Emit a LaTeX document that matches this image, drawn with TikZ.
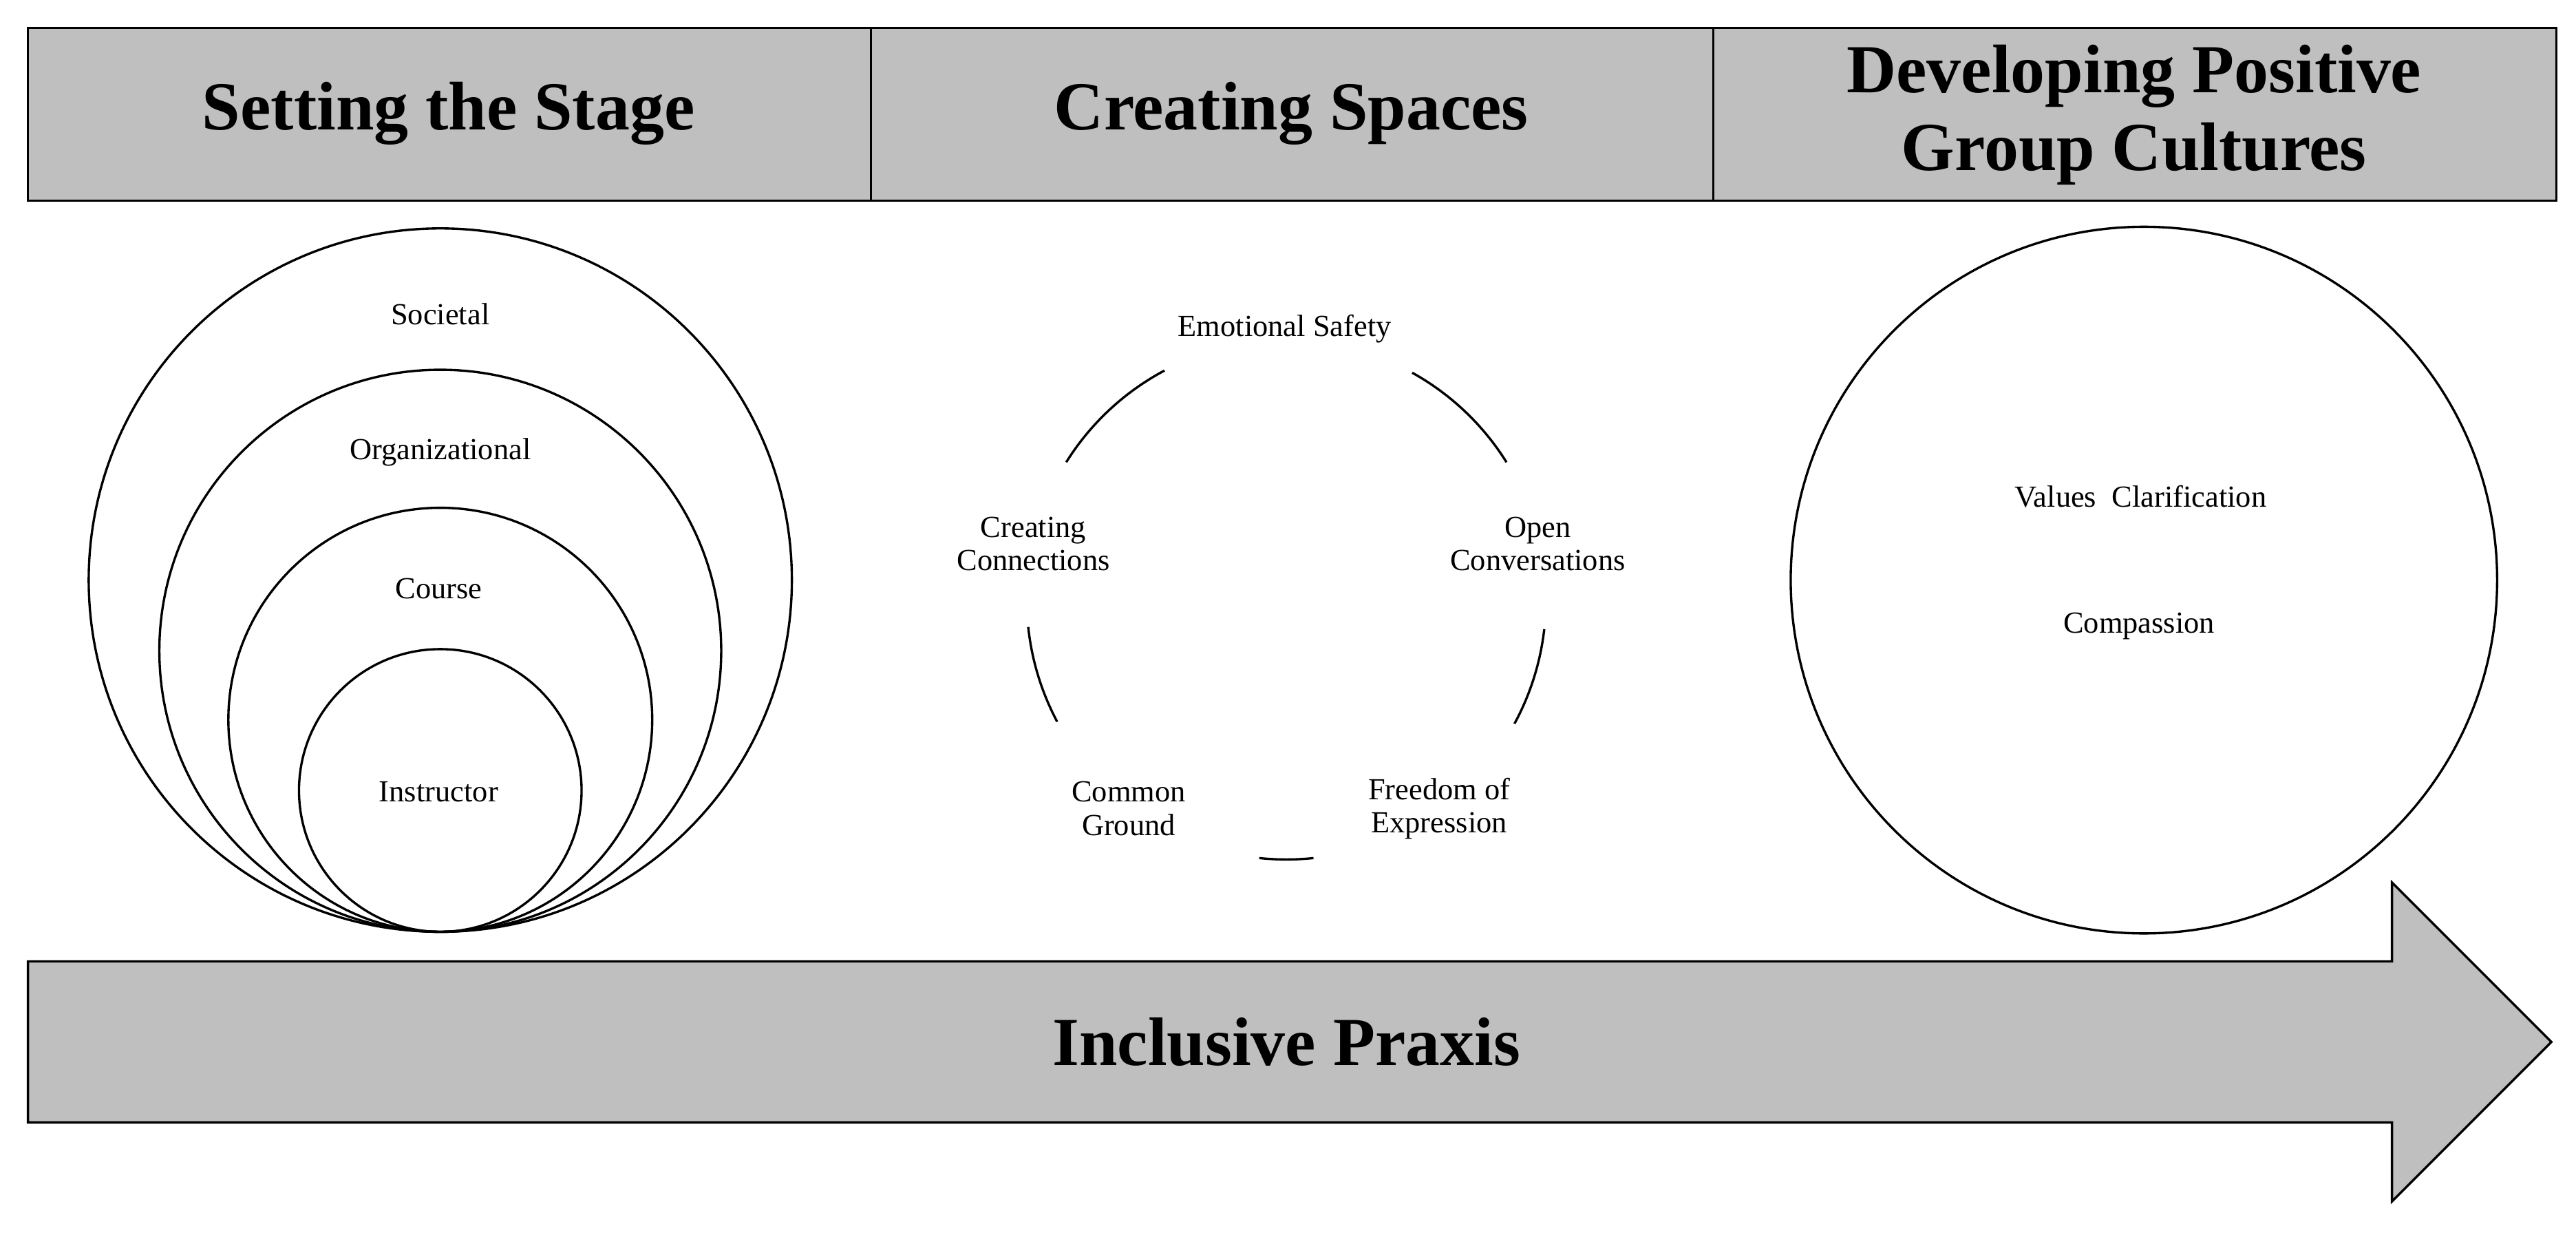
\documentclass[tikz,border=0pt]{standalone}
\usepackage{fontspec}
\setmainfont{Liberation Serif}
\usepackage{xcolor}
\usetikzlibrary{positioning}
\definecolor{bandgray}{RGB}{191,191,191}

\begin{document}
\begin{tikzpicture}[x=0.1mm, y=0.1mm, line width=0.4pt,
	head/.style={font=\fontsize{11.9}{13.4}\selectfont\bfseries, align=center, inner sep=0pt},
	lbl/.style={font=\fontsize{5.3}{5.8}\selectfont, align=center, inner sep=0pt}]
			\useasboundingbox (0,0) rectangle (1568,750);
			% draw header band
			\filldraw[fill=bandgray, draw=black] (17,628) rectangle (1556,733);
			\draw (530,628) -- (530,733);
			\draw (1043,628) -- (1043,733);
			\node[head] (stage) at (273,681) {Setting the Stage};
			\node[head] (spaces) at (786,681) {Creating Spaces};
			\node[head] (cultures) at (1299,680) {Developing Positive\\Group Cultures};
			
			% nested circles, all touching at the bottom
			\draw (268,397) circle (214);
			\draw (268,354) circle (171);
			\draw (268,312) circle (129);
			\draw (268,269) circle (86);
			\node[lbl] (societal) at (268,559) {Societal};
			\node[lbl] (organizational) at (268,475) {Organizational};
			\node[lbl] (course) at (267,392) {Course};
			\node[lbl] (instructor) at (267,268) {Instructor};
			
			% broken circle
			\coordinate (cs) at (783,385);
			\draw ([shift={(118:158)}]cs) arc (118:148:158);
			\draw ([shift={(32:158)}]cs) arc (32:61:158);
			\draw ([shift={(186:158)}]cs) arc (186:208:158);
			\draw ([shift={(-28.5:158)}]cs) arc (-28.5:-6.5:158);
			\draw ([shift={(264:158)}]cs) arc (264:276:158);
			\node[lbl] (safety) at (782,550) {Emotional Safety};
			\node[lbl] (connections) at (629,419) {Creating\\Connections};
			\node[lbl] (conversations) at (936,419) {Open\\Conversations};
			\node[lbl] (ground) at (687,258) {Common\\Ground};
			\node[lbl] (expression) at (876,258) {Freedom of\\Expression};
			
			% right circle
			\draw (1305,397) circle (215);
			\node[lbl] (values) at (1303,448) {Values~~Clarification};
			\node[lbl] (compassion) at (1302,369) {Compassion};
			
			% big arrow
			\filldraw[fill=bandgray, draw=black] (17,67) -- (1456,67) -- (1456,19) -- (1553,116) -- (1456,213) -- (1456,165) -- (17,165) -- cycle;
			\node[head] (praxis) at (783,116) {Inclusive Praxis};
		\end{tikzpicture}
\end{document}
